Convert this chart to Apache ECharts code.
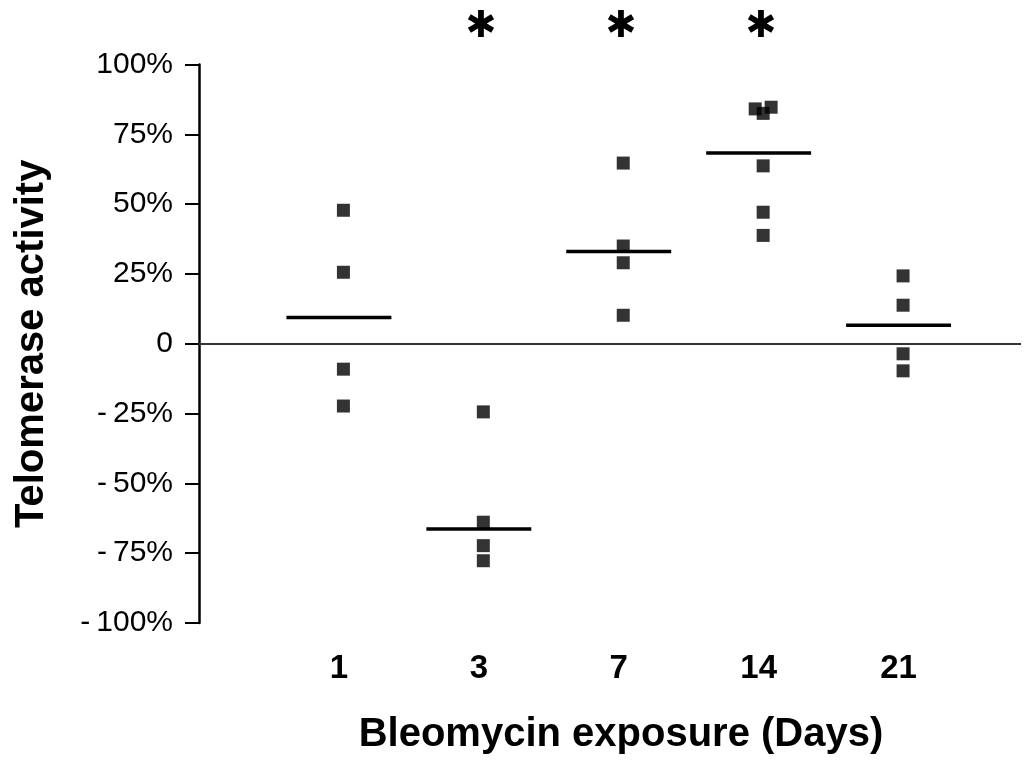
<!DOCTYPE html>
<html><head><meta charset="utf-8">
<script src="https://cdn.jsdelivr.net/npm/echarts@6/dist/echarts.min.js"></script>
<style>html,body{margin:0;padding:0;background:#fff}#c{width:1024px;height:760px}</style>
</head><body><div id="c"></div>
<script>
// ---- data ----
const days = ['1', '3', '7', '14', '21'];
const starredDays = ['3', '7', '14'];
const day1 = [47.8, 25.6, -9.1, -22.3];
const day3 = [-24.4, -63.9, -72.3, -77.7];
const day7 = [64.7, 35.0, 29.0, 10.2];
const day14 = [84.1, 82.5, 84.7, 63.7, 47.1, 38.8];
const day21 = [24.3, 13.8, -3.6, -9.7];
const day14Jitter = [-0.057, 0, 0.057, 0, 0, 0];
const means = [9.4, -66.3, 33.0, 68.3, 6.6];

const groups = [day1, day3, day7, day14, day21];
const jitters = [null, null, null, day14Jitter, null];
const pointData = [];
groups.forEach((vals, i) => {
  vals.forEach((v, j) => {
    const jt = jitters[i] ? jitters[i][j] : 0;
    pointData.push([i + 1 + jt, v]);
  });
});
const meanData = means.map((m, i) => [i + 1, m]);

const FONT = "'Liberation Sans', Arial, Helvetica, sans-serif";
const chart = echarts.init(document.getElementById('c'), null, {renderer: 'canvas'});
const xMin = 0, xMax = 5.875;
const dayLabel = v => (Math.abs(v - Math.round(v)) < 1e-9 && v >= 1 && v <= days.length) ? days[Math.round(v) - 1] : '';

chart.setOption({
  backgroundColor: '#fff',
  animation: false,
  grid: {left: 199, right: 0, top: 64.5, bottom: 134.7},
  xAxis: [{
    type: 'value', min: xMin, max: xMax, interval: 1,
    axisLine: {show: false}, axisTick: {show: false}, splitLine: {show: false},
    axisLabel: {formatter: dayLabel, fontSize: 33, fontWeight: 'bold', color: '#000', fontFamily: FONT, margin: 29},
    name: 'Bleomycin exposure (Days)', nameLocation: 'middle', nameGap: 92,
    nameTextStyle: {fontSize: 40, fontWeight: 'bold', color: '#000', fontFamily: FONT, padding: [0, 0, 0, 22]}
  }, {
    type: 'value', position: 'top', min: xMin, max: xMax, interval: 1,
    axisLine: {show: false}, axisTick: {show: false}, splitLine: {show: false},
    axisLabel: {
      formatter: v => starredDays.indexOf(dayLabel(v)) >= 0 ? '\u2731' : '',
      fontSize: 37, color: '#000', fontFamily: "'DejaVu Sans', sans-serif", margin: 19,
      padding: [0, 0, 0, 4]
    }
  }],
  yAxis: {
    type: 'value', min: -100, max: 100, interval: 25,
    axisLine: {show: true, lineStyle: {color: '#000', width: 2.5}},
    axisTick: {show: true, length: 14, lineStyle: {color: '#000', width: 2}},
    splitLine: {show: false},
    axisLabel: {
      formatter: v => v === 0 ? '0' : (v < 0 ? '-\u2009' + Math.abs(v) + '%' : v + '%'),
      fontSize: 30, color: '#000', fontFamily: FONT, margin: 26
    },
    name: 'Telomerase activity', nameLocation: 'middle', nameGap: 147, nameRotate: 90,
    nameTextStyle: {fontSize: 40, fontWeight: 'bold', color: '#000', fontFamily: FONT}
  },
  series: [{
    type: 'scatter', xAxisIndex: 0, data: pointData,
    symbol: 'rect', symbolSize: 13, symbolOffset: [4.5, 0],
    itemStyle: {color: '#000'}, silent: true, z: 3,
    markLine: {
      silent: true, symbol: 'none', label: {show: false},
      lineStyle: {color: '#333', width: 2, type: 'solid'},
      data: [{yAxis: 0}]
    }
  }, {
    type: 'custom', xAxisIndex: 0, data: meanData, silent: true, z: 4,
    renderItem: (params, api) => {
      const x = api.value(0), y = api.value(1);
      const p1 = api.coord([x - 0.375, y]);
      const p2 = api.coord([x + 0.375, y]);
      return {type: 'line', shape: {x1: p1[0], y1: p1[1], x2: p2[0], y2: p2[1]},
        style: {stroke: '#000', lineWidth: 3.5}};
    }
  }]
});
</script></body></html>
